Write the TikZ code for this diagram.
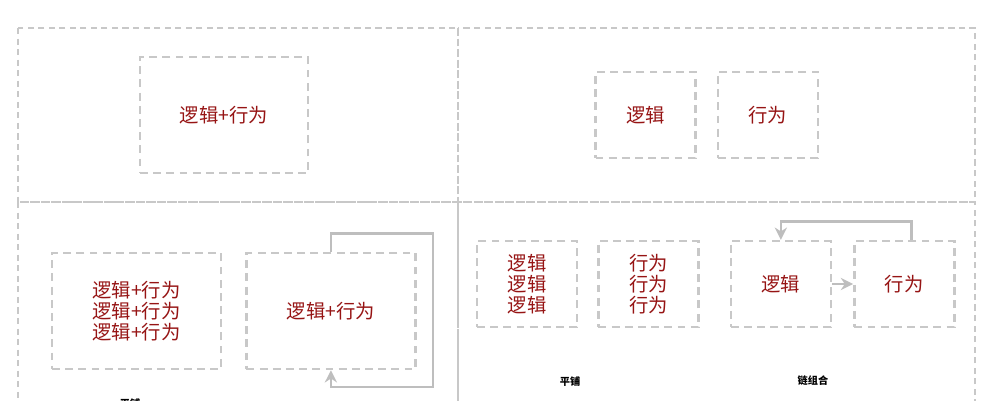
\documentclass[tikz,border=0pt]{standalone}
\usepackage{fontspec}
\setmainfont{Noto Sans CJK SC}
\usetikzlibrary{arrows.meta, positioning}
\definecolor{linegray}{RGB}{200,200,200}
\definecolor{arrowgray}{RGB}{190,190,190}
\definecolor{txtred}{RGB}{150,20,20}

\begin{document}
\begin{tikzpicture}[
    x = 0.02cm, y = -0.02cm,
    panel/.style = {draw=linegray, line width=1.3pt,
    dash pattern=on 3.5pt off 2.5pt},
    box/.style = {rectangle, draw=linegray, line width=1.4pt,
    dash pattern=on 4.5pt off 3pt, text=txtred,
    align=center, font=\fontsize{11}{12}\selectfont,
    minimum width=#1},% width
    box/.default = 2cm,
    flow/.style = {draw=arrowgray, line width=1.5pt,
    -{Stealth[length=7pt, width=7pt]}},
    lbl/.style = {font=\fontsize{5.8}{6}\selectfont\bfseries}
    ]
    \useasboundingbox (0,0) rectangle (1000,400);
    %
    % panels
    \draw[panel] (18,28) rectangle (458,202);
    \draw[panel] (458,28) rectangle (975,202);
    \draw[panel] (18,202) rectangle (458,430);
    \draw[panel] (458,202) rectangle (975,430);
    %
    % top row
    \node (tl) [box=3.36cm, minimum height=2.32cm] at (224,115) {逻辑+行为};
    \node (tr1) [box, minimum height=1.72cm] at (645.5,115) {逻辑};
    \node (tr2) [box, minimum height=1.72cm, right=0.4cm of tr1] {行为};
    %
    % bottom left
    \node (lb1) [box=3.38cm, minimum height=2.32cm] at (136.5,311)
        {逻辑+行为\\逻辑+行为\\逻辑+行为};
    \node (lb2) [box=3.38cm, minimum height=2.32cm, right=0.46cm of lb1]
        {逻辑+行为};
    \coordinate (lcorner) at (433,387);
    \draw[flow] (lb2.north) -- ++(0,-18) -| (lcorner) -| (lb2.south);
    \node (lbl1) [lbl] at (130,404) {平铺};
    %
    % bottom right
    \node (rb1) [box, minimum height=1.72cm] at (527,284)
        {逻辑\\逻辑\\逻辑};
    \node (rb2) [box, minimum height=1.72cm, right=0.38cm of rb1]
        {行为\\行为\\行为};
    \node (rc1) [box, minimum height=1.72cm, right=0.6cm of rb2] {逻辑};
    \node (rc2) [box, minimum height=1.72cm, right=0.42cm of rc1] {行为};
    \draw[flow] (rc1) -- (rc2);
    \draw[flow] ([xshift=0.14cm]rc2.north) -- ++(0,-18) -| (rc1.north);
    \node (lbl2) [lbl] at (570,382) {平铺};
    \node (lbl3) [lbl] at (813,381) {链组合};
\end{tikzpicture}
\end{document}
